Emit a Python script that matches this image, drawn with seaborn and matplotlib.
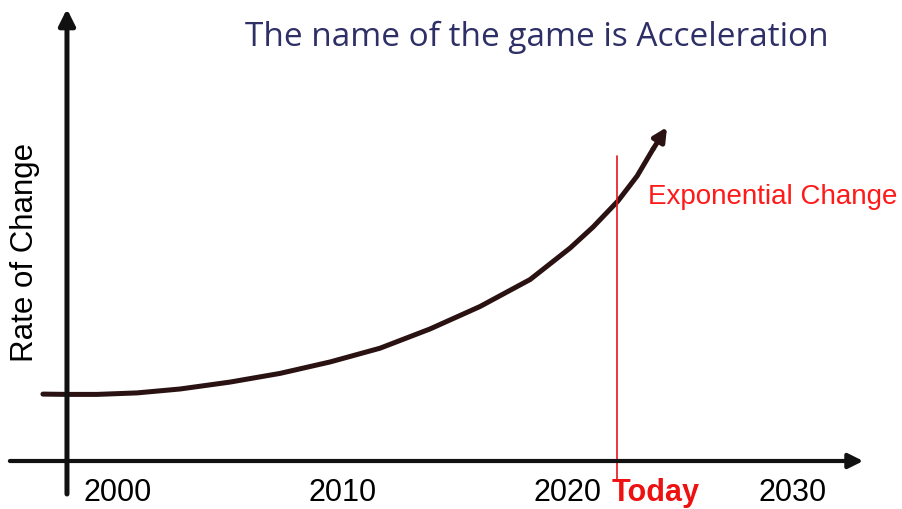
import pandas as pd
import seaborn as sns
import matplotlib.pyplot as plt

# Curve (year, relative rate of change)
years = [1996.66, 1997.73, 1999.07, 2000.85, 2002.76, 2004.98, 2007.21, 2009.43,
         2011.66, 2013.88, 2016.11, 2018.34, 2020.12, 2021.14, 2022.25, 2023.1,
         2023.81, 2024.43]
rates = [2.23, 2.22, 2.22, 2.27, 2.4, 2.63, 2.92, 3.3,
         3.76, 4.4, 5.15, 6.05, 7.1, 7.8, 8.67, 9.5,
         10.4, 11.13]

tick_years = [2000, 2010, 2020, 2030]
tick_labels = ["2000", "2010", "2020", "2030"]
today_year = 2022.2

df = pd.DataFrame({"year": years, "rate": rates})

sns.set_style("white")
plt.rcParams['font.family'] = ['Liberation Sans', 'DejaVu Sans']

fig = plt.figure(figsize=(9.03, 5.10), dpi=100)
ax = fig.add_axes([0, 0, 1, 1])
ax.set_xlim(1994.75, 2034.93)
ax.set_ylim(-1.6, 15.4)
ax.axis("off")

curve_col = "#2a1212"
# main curve, last segment drawn as an arrow
sns.lineplot(data=df.iloc[:-1], x="year", y="rate", color=curve_col, lw=3.6,
             ax=ax, solid_capstyle="round", solid_joinstyle="round", sort=False)
ax.annotate("", xy=(years[-1], rates[-1]), xytext=(years[-2], rates[-2]),
            arrowprops=dict(arrowstyle="-|>", color=curve_col, lw=3.6,
                            mutation_scale=20, shrinkA=0, shrinkB=0))

# axes drawn as arrows
ax.annotate("", xy=(2033.16, 0), xytext=(1995.19, 0),
            arrowprops=dict(arrowstyle="-|>", color="#111111", lw=3,
                            mutation_scale=22, shrinkA=0, shrinkB=0))
ax.annotate("", xy=(1997.73, 15.07), xytext=(1997.73, -1.1),
            arrowprops=dict(arrowstyle="-|>", color="#111111", lw=3.6,
                            mutation_scale=24, shrinkA=0, shrinkB=0))

# today marker
ax.plot([today_year, today_year], [-0.67, 10.17], color="#e8141c", lw=1.2)

for yr, lab in zip(tick_years, tick_labels):
    ax.text(yr, -1.03, lab, ha="center", va="center", fontsize=22, color="black")
ax.text(2023.94, -1.03, "Today", ha="center", va="center", fontsize=22,
        color="#ee1111", fontweight="bold")
ax.text(2023.59, 8.83, "Exponential Change", ha="left", va="center",
        fontsize=20, color="#ff1a1a")

fig.text(0.0277, 0.506, "Rate of Change", rotation=90, ha="center", va="center",
         fontsize=22.5, color="black")
fig.text(0.271, 1 - 46 / 510, "The name of the game is Acceleration", ha="left",
         va="baseline", fontsize=24, color="#2d2f66", family="Open Sans")

fig.savefig("out.png", dpi=100)
